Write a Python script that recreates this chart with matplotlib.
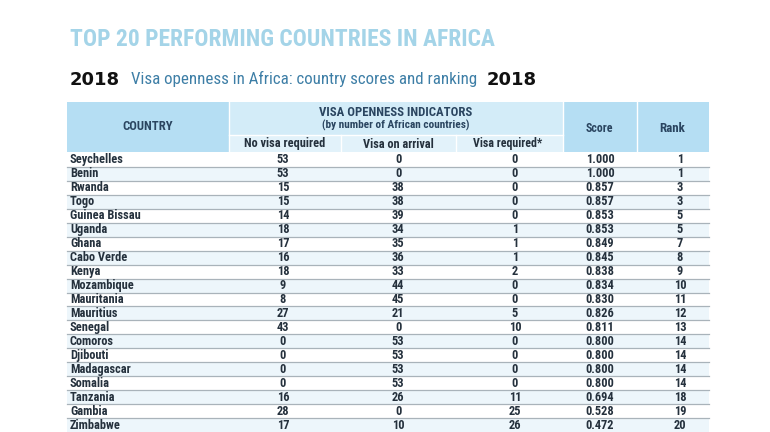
import matplotlib
matplotlib.use("Agg")
import matplotlib.pyplot as plt
from matplotlib.patches import Rectangle

countries = ["Seychelles", "Benin", "Rwanda", "Togo", "Guinea Bissau", "Uganda", "Ghana",
             "Cabo Verde", "Kenya", "Mozambique", "Mauritania", "Mauritius", "Senegal",
             "Comoros", "Djibouti", "Madagascar", "Somalia", "Tanzania", "Gambia", "Zimbabwe"]
no_visa = [53, 53, 15, 15, 14, 18, 17, 16, 18, 9, 8, 27, 43, 0, 0, 0, 0, 16, 28, 17]
on_arrival = [0, 0, 38, 38, 39, 34, 35, 36, 33, 44, 45, 21, 0, 53, 53, 53, 53, 26, 0, 10]
visa_req = [0, 0, 0, 0, 0, 1, 1, 1, 2, 0, 0, 5, 10, 0, 0, 0, 0, 11, 25, 26]
scores = [1.000, 1.000, 0.857, 0.857, 0.853, 0.853, 0.849, 0.845, 0.838, 0.834, 0.830,
          0.826, 0.811, 0.800, 0.800, 0.800, 0.800, 0.694, 0.528, 0.472]
ranks = [1, 1, 3, 3, 5, 5, 7, 8, 9, 10, 11, 12, 13, 14, 14, 14, 14, 18, 19, 20]

title = "TOP 20 PERFORMING COUNTRIES IN AFRICA"
subtitle = "Visa openness in Africa: country scores and ranking"
year = "2018"
header_country = "COUNTRY"
header_group = "VISA OPENNESS INDICATORS"
header_group_sub = "(by number of African countries)"
sub_headers = ["No visa required", "Visa on arrival", "Visa required*"]
header_score = "Score"
header_rank = "Rank"

FONT = ["DejaVu Sans Condensed", "Liberation Sans Narrow", "Roboto Condensed", "Roboto", "DejaVu Sans"]
plt.rcParams['font.family'] = FONT

W, H = 770, 432
fig = plt.figure(figsize=(W / 100, H / 100), dpi=100)
ax = fig.add_axes([0, 0, 1, 1])
ax.set_xlim(0, W)
ax.set_ylim(H, 0)
ax.axis("off")
renderer = fig.canvas.get_renderer()


def fit_text(t, target_w):
    bb = t.get_window_extent(renderer=renderer)
    t.set_fontsize(t.get_fontsize() * target_w / bb.width)


HEAD_BLUE = "#b5def3"
GROUP_BLUE = "#d3ecf8"
SUB_BLUE = "#e2f2fa"
ROW_ALT = "#edf6fb"
NAVY = "#2a4560"
TXT = "#25313d"

# title
t = ax.text(70, 40, title, fontsize=21, color="#a4d4e8", va="center", ha="left", fontweight="semibold")
fit_text(t, 423)
ax.text(70, 80, year, fontsize=13, fontweight="bold", color="#111111", va="center", ha="left",
        family=["DejaVu Sans"])
t = ax.text(131, 79, subtitle, fontsize=12.5, color="#3d7ea6", va="center", ha="left")
fit_text(t, 348)
ax.text(487, 80, year, fontsize=13, fontweight="bold", color="#111111", va="center", ha="left",
        family=["DejaVu Sans"])

# header
x0, x_grp, x_s1, x_s2, x_score, x_rank, x1 = 67, 229, 341, 456, 563, 637, 709
y_top, y_mid, y_hdr = 102, 135, 152
ax.add_patch(Rectangle((x0, y_top), x_grp - x0, y_hdr - y_top, color=HEAD_BLUE, lw=0))
ax.add_patch(Rectangle((x_grp, y_top), x_score - x_grp, y_mid - y_top, color=GROUP_BLUE, lw=0))
ax.add_patch(Rectangle((x_grp, y_mid), x_score - x_grp, y_hdr - y_mid, color=SUB_BLUE, lw=0))
ax.add_patch(Rectangle((x_score, y_top), x_rank - x_score, y_hdr - y_top, color=HEAD_BLUE, lw=0))
ax.add_patch(Rectangle((x_rank, y_top), x1 - x_rank, y_hdr - y_top, color=HEAD_BLUE, lw=0))
for xv in (x_grp, x_score, x_rank):
    ax.plot([xv, xv], [y_top, y_hdr], color="white", lw=1)
for xv in (x_s1, x_s2):
    ax.plot([xv, xv], [y_mid, y_hdr], color="white", lw=1)
ax.plot([x_grp, x_score], [y_mid, y_mid], color="white", lw=1)

t = ax.text((x0 + x_grp) / 2, 127, header_country, fontsize=8, fontweight="bold", color=NAVY,
            ha="center", va="center")
fit_text(t, 50)
t = ax.text((x_grp + x_score) / 2, 113, header_group, fontsize=8, fontweight="bold", color=NAVY,
            ha="center", va="center")
fit_text(t, 152)
t = ax.text((x_grp + x_score) / 2, 125, header_group_sub, fontsize=6.5, color=NAVY,
            ha="center", va="center", fontweight="semibold")
fit_text(t, 148)
sub_x = [(x_grp + x_s1) / 2, (x_s1 + x_s2) / 2, 508]
sub_w = [80, 70, 68]
for sx, st, sw in zip(sub_x, sub_headers, sub_w):
    t = ax.text(sx, 144, st, fontsize=7.5, color=TXT, ha="center", va="center", fontweight="semibold")
    fit_text(t, sw)
t = ax.text(599, 128, header_score, fontsize=7.5, fontweight="bold", color=NAVY,
            ha="center", va="center")
fit_text(t, 27)
t = ax.text(672, 128, header_rank, fontsize=7.5, fontweight="bold", color=NAVY,
            ha="center", va="center")
fit_text(t, 26)

# rows
row_h = 13.95
col_x = [283, 398, 515, 600, 680]
probe = ax.text(0, 0, "Seychelles", fontsize=7.5, fontweight="semibold")
fit_text(probe, 53)
row_fs = probe.get_fontsize()
probe.remove()
for i, c in enumerate(countries):
    yt = y_hdr + 1 + i * row_h
    if i % 2 == 1:
        ax.add_patch(Rectangle((x0, yt), x1 - x0, row_h, color=ROW_ALT, lw=0))
    if i > 0:
        ax.plot([x0, x1], [yt, yt], color="#a9b3ba", lw=0.9)
    yc = yt + row_h / 2
    ax.text(70, yc, c, fontsize=row_fs, color=TXT, ha="left", va="center", fontweight="semibold")
    vals = [str(no_visa[i]), str(on_arrival[i]), str(visa_req[i]), f"{scores[i]:.3f}", str(ranks[i])]
    for xv, v in zip(col_x, vals):
        ax.text(xv, yc, v, fontsize=row_fs, color=TXT, ha="center", va="center", fontweight="semibold")

fig.savefig("out.png", dpi=100)
